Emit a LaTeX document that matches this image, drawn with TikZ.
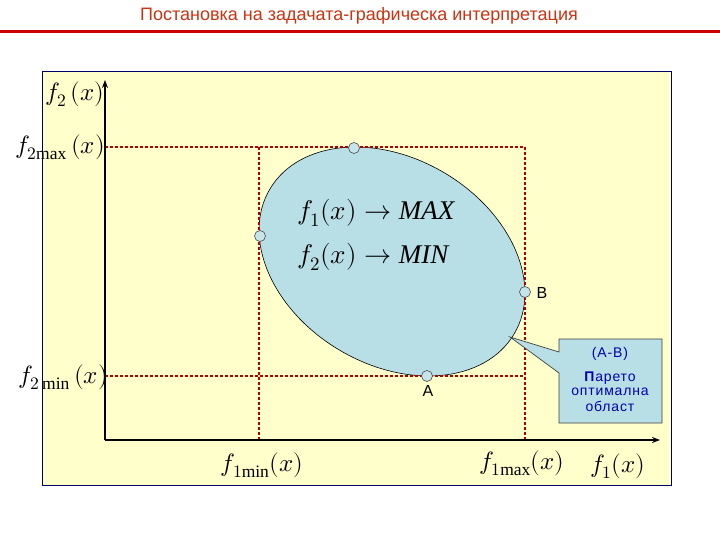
\documentclass[tikz,border=0pt]{standalone}
\usepackage{fontspec}
\setmainfont{Liberation Serif}
\newfontfamily\arialf{Liberation Sans}
\newfontfamily\arialsp[LetterSpace=6]{Liberation Sans}
\usetikzlibrary{arrows.meta}
\usepackage{unicode-math}
\setmathfont{Latin Modern Math}
\setmathrm{Liberation Serif}
\definecolor{titlered}{HTML}{CC3311}
\definecolor{rulered}{HTML}{CC0000}
\definecolor{panel}{HTML}{FFFFCC}
\definecolor{frameblue}{HTML}{000060}
\definecolor{regionblue}{HTML}{B8DFE6}
\definecolor{dashred}{HTML}{B00000}
\definecolor{calltext}{HTML}{0000B0}
\tikzset{
  dashline/.style={draw=dashred, line width=1.4pt, dash pattern=on 3pt off 2pt},
  axisline/.style={draw=black, line width=2pt, -{Stealth[length=8pt,width=6pt]}},
  tpoint/.style={circle, draw=black!70, fill=regionblue!80!white, minimum size=11pt, inner sep=0pt, line width=0.6pt},
  mathlbl/.style={font=\fontsize{25}{28}\selectfont, inner sep=0pt},
  eqlbl/.style={font=\fontsize{27}{30}\selectfont, inner sep=0pt},
  ptlbl/.style={font=\arialf\fontsize{16}{18}\selectfont, inner sep=0pt},
  calltxt/.style={font=\arialsp\fontsize{14}{16}\selectfont, text=calltext, inner sep=0pt}
}
\begin{document}
\begin{tikzpicture}[x=1pt,y=-1pt]
\useasboundingbox (0,0) rectangle (720,540);
\fill[white] (0,0) rectangle (720,540);
% title
\node[font=\arialf\fontsize{18}{20}\selectfont, text=titlered, inner sep=0pt] (title) at (359,16) {Постановка на задачата-графическа интерпретация};
\draw[rulered, line width=3pt] (0,31.5) -- (720,31.5);
% panel
\draw[frameblue, fill=panel, line width=0.8pt] (42,71) rectangle (671,485);
% coordinates
\coordinate (O) at (105,440);
\coordinate (Ytop) at (105,80);
\coordinate (Xend) at (660,440);
\coordinate (h1a) at (105,147);
\coordinate (h1b) at (525,147);
\coordinate (h2a) at (105,376);
\coordinate (h2b) at (525,376);
\coordinate (v1a) at (259,147);
\coordinate (v1b) at (259,440);
\coordinate (v2b) at (525,440);
% ellipse region
\fill[regionblue] (392,261.5) ellipse[x radius=142, y radius=103, rotate=-30.7];
\draw[black, line width=0.6pt] (392,261.5) ellipse[x radius=142, y radius=103, rotate=-30.7];
% dashed lines
\draw[dashline] (h1a) -- (h1b);
\draw[dashline] (h2a) -- (h2b);
\draw[dashline] (v1a) -- (v1b);
\draw[dashline] (h1b) -- (v2b);
% axes
\draw[axisline] (O) -- (Ytop);
\draw[axisline] (O) -- (Xend);
% tangent points
\node[tpoint] (ptop) at (354,148) {};
\node[tpoint] (pleft) at (260,236) {};
\node[tpoint] (B) at (525,292) {};
\node[tpoint] (A) at (427,376) {};
\node[ptlbl] (Blbl) at (542,293) {B};
\node[ptlbl] (Albl) at (428,391) {A};
% formulas
\node[eqlbl, anchor=west] (eq1) at (297,213) {$f_1(x)\rightarrow \mathit{MAX}$};
\node[eqlbl, anchor=west] (eq2) at (297,257) {$f_2(x)\rightarrow \mathit{MIN}$};
% axis labels
\node[mathlbl] (f2) at (75,94) {$f_2\,(x)$};
\node[mathlbl] (f2max) at (60,147) {$f_{2\mathrm{max}}\,(x)$};
\node[mathlbl] (f2min) at (63,377) {$f_{2\,\mathrm{min}}\,(x)$};
\node[mathlbl] (f1min) at (262,465) {$f_{1\mathrm{min}}(x)$};
\node[mathlbl] (f1max) at (522,463) {$f_{1\mathrm{max}}(x)$};
\node[mathlbl] (f1) at (618,466) {$f_1(x)$};
% callout
\coordinate (tip) at (510,337);
\draw[fill=regionblue, draw=black!75, line width=0.7pt]
  (559,339) -- (662,339) -- (662,423) -- (559,423) -- (559,373) -- (tip) -- (559,352) -- cycle;
\node[calltxt] (c1) at (610,354) {(A-B)};
\node[calltxt] (c2) at (610,378) {\textbf{П}арето};
\node[calltxt] (c3) at (610,392) {оптимална};
\node[calltxt] (c4) at (610,406) {област};
\end{tikzpicture}
\end{document}
